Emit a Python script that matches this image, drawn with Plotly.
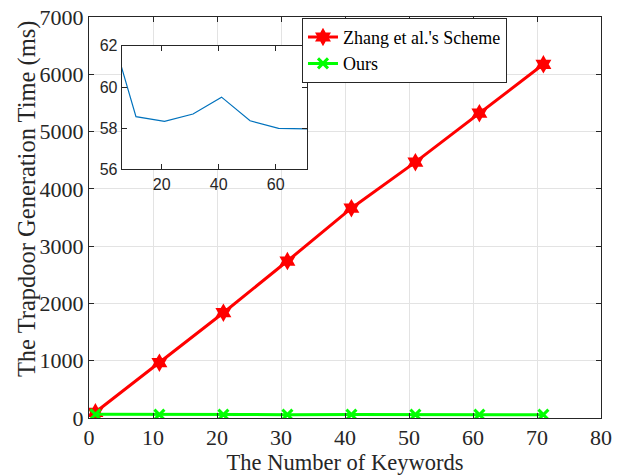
import plotly.graph_objects as go

keywords = [1, 11, 21, 31, 41, 51, 61, 71]
zhang_ms = [100, 965, 1838, 2740, 3663, 4466, 5321, 6175]
ours_ms = [63.3, 58.56, 58.33, 58.69, 59.51, 58.36, 57.99, 57.97]

x_ticks = [0, 10, 20, 30, 40, 50, 60, 70, 80]
y_ticks = [0, 1000, 2000, 3000, 4000, 5000, 6000, 7000]
inset_x_ticks = [20, 40, 60]
inset_y_ticks = [56, 58, 60, 62]
inset_x_range = [6, 71]
inset_y_range = [56, 62]

AX = "#262626"
GRID = "#e3e3e3"
SERIF = "Liberation Serif"
SANS = "Liberation Sans"

fig = go.Figure()
fig.add_trace(go.Scatter(
    x=keywords, y=zhang_ms, mode="lines+markers", name="Zhang et al.'s Scheme",
    line=dict(color="#ff0000", width=3),
    marker=dict(symbol="hexagram", size=14, color="#ff0000"),
    xaxis="x", yaxis="y"))
fig.add_trace(go.Scatter(
    x=keywords, y=ours_ms, mode="lines+markers", name="Ours",
    line=dict(color="#00ff00", width=3),
    marker=dict(symbol="x-thin", size=10, color="#00ff00",
                line=dict(color="#00ff00", width=3)),
    xaxis="x", yaxis="y"))
fig.add_trace(go.Scatter(
    x=keywords, y=ours_ms, mode="lines", showlegend=False,
    line=dict(color="#0072bd", width=1.2),
    xaxis="x2", yaxis="y2"))

fig.add_shape(type="rect", xref="x2", yref="y2",
              x0=inset_x_range[0], x1=inset_x_range[1],
              y0=inset_y_range[0], y1=inset_y_range[1],
              fillcolor="white", line=dict(width=0), layer="below")

fig.add_annotation(text="The Trapdoor Generation Time (ms)", textangle=-90,
                   xref="paper", yref="paper", x=-0.121, y=0.546,
                   xanchor="center", yanchor="middle", showarrow=False,
                   font=dict(family=SERIF, size=24.5, color=AX))

common = dict(showline=True, linecolor=AX, linewidth=1, mirror="ticks",
              ticks="inside", ticklen=5, tickcolor=AX, zeroline=False,
              automargin=False)

fig.update_layout(
    width=618, height=476,
    margin=dict(l=89, r=17, t=17, b=58),
    paper_bgcolor="white", plot_bgcolor="white",
    xaxis=dict(range=[0, 80], tickvals=x_ticks, showgrid=True, gridcolor=GRID,
               tickfont=dict(family=SERIF, size=22, color=AX),
               title=dict(text="The Number of Keywords", standoff=2,
                          font=dict(family=SERIF, size=22.5, color=AX)),
               **common),
    yaxis=dict(range=[0, 7000], tickvals=y_ticks, showgrid=True, gridcolor=GRID,
               tickfont=dict(family=SERIF, size=22, color=AX),
               **common),
    xaxis2=dict(domain=[0.0639, 0.426], anchor="y2", range=inset_x_range,
                tickvals=inset_x_ticks, showgrid=False,
                tickfont=dict(family=SANS, size=16, color=AX), **common),
    yaxis2=dict(domain=[0.620, 0.928], anchor="x2", range=inset_y_range,
                tickvals=inset_y_ticks, showgrid=False,
                tickfont=dict(family=SANS, size=16, color=AX), **common),
    legend=dict(x=0.416, y=0.998, xanchor="left", yanchor="top",
                bgcolor="white", bordercolor=AX, borderwidth=1,
                font=dict(family=SERIF, size=18, color="black"),
                tracegroupgap=0, itemwidth=30),
)

fig.write_html("out.html", config={"displayModeBar": False},
               post_script="document.body.style.margin='0';")
